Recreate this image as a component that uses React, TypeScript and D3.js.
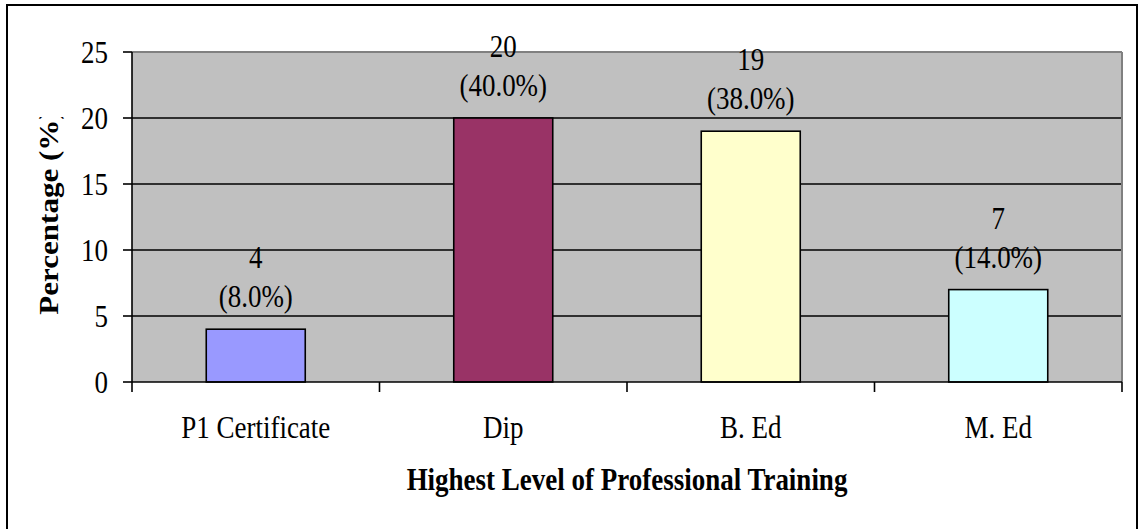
import React from "react";
import * as d3 from "d3";

const categories = ["P1 Certificate", "Dip", "B. Ed", "M. Ed"];
const counts = [4, 20, 19, 7];
const percents = ["8.0", "40.0", "38.0", "14.0"];
const barColors = ["#9999FF", "#993366", "#FFFFCC", "#CCFFFF"];
const yTicks = [0, 5, 10, 15, 20, 25];

const W = 1139;
const H = 529;
const plot = { left: 132, right: 1122, top: 52, bottom: 382 };
const FONT = "'Liberation Serif', 'Times New Roman', serif";
const SY = 1.15;

function T({ x, y, children, anchor = "middle", bold = false }: any) {
  return (
    <text
      transform={`translate(${x},${y}) scale(1,${SY})`}
      textAnchor={anchor}
      fontFamily={FONT}
      fontSize={27}
      fontWeight={bold ? "bold" : "normal"}
      fill="#000"
    >
      {children}
    </text>
  );
}

export default function App() {
  const x = d3.scaleBand<string>().domain(categories).range([plot.left, plot.right]).padding(0);
  const y = d3.scaleLinear().domain([0, 25]).range([plot.bottom, plot.top]);
  const bw = x.bandwidth() / 2.5;
  const xTickPos = categories.map((c) => x(c)!).concat([plot.right]);

  return (
    <svg
      width={W}
      height={H}
      style={{ position: "absolute", left: 0, top: 0, background: "#fff" }}
    >
      <defs>
        <clipPath id="ytclip">
          <rect x={0} y={117} width={120} height={400} />
        </clipPath>
      </defs>
      <rect x={0} y={0} width={W} height={H} fill="#fff" />
      <rect x={7} y={5} width={1130} height={560} fill="none" stroke="#000" strokeWidth={2} />

      {/* plot area */}
      <rect
        x={plot.left}
        y={plot.top}
        width={plot.right - plot.left}
        height={plot.bottom - plot.top}
        fill="#C0C0C0"
      />
      {yTicks.filter((t) => t > 0 && t < 25).map((t) => (
        <line key={t} x1={plot.left} x2={plot.right} y1={y(t)} y2={y(t)} stroke="#000" strokeWidth={1.6} />
      ))}
      <line x1={plot.left} x2={plot.right} y1={plot.top} y2={plot.top} stroke="#808080" strokeWidth={2} />
      <line x1={plot.right} x2={plot.right} y1={plot.top} y2={plot.bottom} stroke="#808080" strokeWidth={2} />

      {/* bars */}
      {categories.map((c, i) => (
        <rect
          key={c}
          x={x(c)! + (x.bandwidth() - bw) / 2}
          y={y(counts[i])}
          width={bw}
          height={y(0) - y(counts[i])}
          fill={barColors[i]}
          stroke="#000"
          strokeWidth={1.6}
        />
      ))}

      {/* axes */}
      <line x1={plot.left} x2={plot.left} y1={plot.top} y2={plot.bottom} stroke="#000" strokeWidth={1.6} />
      <line x1={plot.left} x2={plot.right} y1={plot.bottom} y2={plot.bottom} stroke="#000" strokeWidth={1.6} />
      {yTicks.map((t) => (
        <g key={t}>
          <line x1={plot.left - 9} x2={plot.left} y1={y(t)} y2={y(t)} stroke="#000" strokeWidth={1.6} />
          <T x={108} y={y(t) + 10.5} anchor="end">{t}</T>
        </g>
      ))}
      {xTickPos.map((p, i) => (
        <line key={i} x1={p} x2={p} y1={plot.bottom} y2={plot.bottom + 10} stroke="#000" strokeWidth={1.6} />
      ))}
      {categories.map((c) => (
        <T key={c} x={x(c)! + x.bandwidth() / 2} y={438}>{c}</T>
      ))}

      {/* data labels */}
      {categories.map((c, i) => (
        <g key={c}>
          <T x={x(c)! + x.bandwidth() / 2} y={y(counts[i]) - 61}>{counts[i]}</T>
          <T x={x(c)! + x.bandwidth() / 2} y={y(counts[i]) - 22}>({percents[i]}%)</T>
        </g>
      ))}

      {/* titles */}
      <T x={(plot.left + plot.right) / 2 - 0} y={490} bold>Highest Level of Professional Training</T>
      <g clipPath="url(#ytclip)">
        <text
          transform={`translate(58,${(plot.top + plot.bottom) / 2 - 5}) scale(1,${SY}) rotate(-90)`}
          textAnchor="middle"
          fontFamily={FONT}
          fontSize={27}
          fontWeight="bold"
          fill="#000"
        >
          Percentage (%)
        </text>
      </g>
    </svg>
  );
}
